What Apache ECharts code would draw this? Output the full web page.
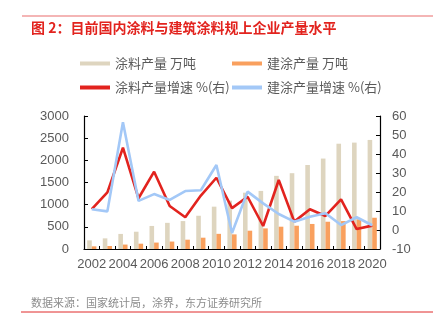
<!DOCTYPE html>
<html>
<head>
<meta charset="utf-8">
<script src="https://cdn.jsdelivr.net/npm/echarts@6/dist/echarts.min.js"></script>
<style>html,body{margin:0;padding:0;background:#fff;}#c{width:438px;height:331px;}</style>
</head>
<body>
<div id="c"></div>
<script>
var years = ['2002','2003','2004','2005','2006','2007','2008','2009','2010','2011','2012','2013','2014','2015','2016','2017','2018','2019','2020'];
var coatingOutput = [195, 240, 340, 390, 520, 590, 630, 750, 955, 1090, 1270, 1310, 1650, 1710, 1895, 2040, 2375, 2400, 2460];
var archOutput = [60, 68, 100, 120, 145, 168, 210, 255, 342, 330, 413, 465, 503, 525, 565, 615, 630, 670, 705];
var coatingGrowth = [11.0, 19.8, 43.3, 16.7, 30.7, 12.6, 6.7, 18.1, 27.5, 11.5, 17.5, 2.1, 26.3, 4.4, 10.9, 7.4, 16.1, 0.5, 2.3];
var archGrowth = [10.9, 9.8, 56.7, 15.3, 18.9, 15.8, 20.5, 20.9, 34.2, -1.6, 20.2, 14.0, 8.4, 4.4, 7.0, 8.8, 2.6, 6.7, 2.5];
var leftTicks = {min: 0, max: 3000, interval: 500};
var rightTicks = {min: -10, max: 60, interval: 10};
var names = ['涂料产量 万吨', '建涂产量 万吨', '涂料产量增速 %(右)', '建涂产量增速 %(右)'];
var titleText = '图 2：目前国内涂料与建筑涂料规上企业产量水平';
var sourceText = '数据来源：国家统计局，涂界，东方证券研究所';

var FONT = '"Liberation Sans", "Noto Sans CJK SC", sans-serif';
var CJK = '"Noto Sans CJK SC", "Liberation Sans", sans-serif';
var cTan = '#DED5BF', cOrange = '#F9A05E', cRed = '#E2231E', cBlue = '#A3C8F7';

function legendAt(name, left, top) {
  return {
    data: [{name: name, icon: 'rect'}], left: left, top: top,
    itemWidth: 30, itemHeight: 4, itemGap: 0, padding: 0,
    textStyle: {fontSize: 13, color: '#595959', fontFamily: CJK}
  };
}
function plain(v) { return String(v); }

var chart = echarts.init(document.getElementById('c'), null, {renderer: 'canvas'});
chart.setOption({
  animation: false,
  backgroundColor: '#fff',
  graphic: [
    {type: 'line', shape: {x1: 22, y1: 16, x2: 433, y2: 16}, style: {stroke: '#F09C9C', lineWidth: 1.3}},
    {type: 'text', left: 31, top: 21, style: {text: titleText, fill: '#E2231E', font: 'bold 14px ' + CJK}},
    {type: 'text', left: 31, top: 297, style: {text: sourceText, fill: '#8C8C8C', font: '11px ' + CJK}},
    {type: 'line', shape: {x1: 21, y1: 312, x2: 433, y2: 312}, style: {stroke: '#E02A2A', lineWidth: 1}}
  ],
  legend: [
    legendAt(names[0], 80, 57),
    legendAt(names[1], 232, 57),
    legendAt(names[2], 80, 81),
    legendAt(names[3], 232, 81)
  ],
  grid: {left: 84, right: 58, top: 116, bottom: 82},
  xAxis: {
    type: 'category', data: years, boundaryGap: true,
    axisLine: {lineStyle: {color: '#000', width: 1.2}},
    axisTick: {show: true, inside: true, length: 3, interval: 0, lineStyle: {color: '#000'}},
    axisLabel: {interval: 1, fontSize: 13, color: '#595959', fontFamily: FONT, margin: 9}
  },
  yAxis: [
    {type: 'value', min: leftTicks.min, max: leftTicks.max, interval: leftTicks.interval,
     splitLine: {show: false},
     axisLine: {show: true, lineStyle: {color: '#000', width: 1.2}},
     axisTick: {show: true, inside: true, length: 4, lineStyle: {color: '#000'}},
     axisLabel: {fontSize: 13, color: '#595959', fontFamily: FONT, margin: 15, formatter: plain}},
    {type: 'value', min: rightTicks.min, max: rightTicks.max, interval: rightTicks.interval,
     splitLine: {show: false},
     axisLine: {show: true, lineStyle: {color: '#000', width: 1.2}},
     axisTick: {show: true, inside: true, length: 4, lineStyle: {color: '#000'}},
     axisLabel: {fontSize: 13, color: '#595959', fontFamily: FONT, margin: 12, formatter: plain}}
  ],
  series: [
    {name: names[0], type: 'bar', data: coatingOutput, barWidth: 4.6, barGap: '0%', itemStyle: {color: cTan}, z: 1},
    {name: names[1], type: 'bar', data: archOutput, barWidth: 4.6, barGap: '0%', itemStyle: {color: cOrange}, z: 1},
    {name: names[2], type: 'line', yAxisIndex: 1, data: coatingGrowth, showSymbol: false, symbol: 'none',
     lineStyle: {color: cRed, width: 2.6}, itemStyle: {color: cRed}, z: 3},
    {name: names[3], type: 'line', yAxisIndex: 1, data: archGrowth, showSymbol: false, symbol: 'none',
     lineStyle: {color: cBlue, width: 2.6}, itemStyle: {color: cBlue}, z: 4}
  ]
});
</script>
</body>
</html>
